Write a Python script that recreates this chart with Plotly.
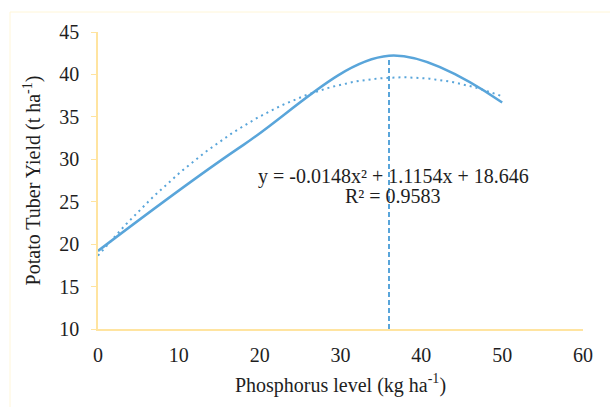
import numpy as np
import plotly.graph_objects as go

# Observed data (phosphorus level vs. yield)
p_levels = [0, 18, 36, 50]
yield_obs = [19.2, 31.7, 42.2, 36.7]

# Polynomial trendline coefficients (as displayed): a*x^2 + b*x + c
trend_coef = [-0.0148, 1.1154, 18.646]
r_squared = 0.9583
optimum_x = 36

x_ticks = [0, 10, 20, 30, 40, 50, 60]
y_ticks = [10, 15, 20, 25, 30, 35, 40, 45]

LINE = "#59A5DA"
AXIS = "#FFE4A0"
TXT = "#1e1e1e"
FONT = "Liberation Serif"
FS = 20

xt = np.linspace(p_levels[0], p_levels[-1], 101)
yt = np.polyval(trend_coef, xt)

fig = go.Figure()
fig.add_trace(go.Scatter(x=p_levels, y=yield_obs, mode="lines",
                         line=dict(color=LINE, width=2.5, shape="spline", smoothing=1.0),
                         hoverinfo="skip", showlegend=False))
fig.add_trace(go.Scatter(x=xt, y=yt, mode="lines",
                         line=dict(color=LINE, width=2, dash="2px,4px"),
                         hoverinfo="skip", showlegend=False))
fig.add_trace(go.Scatter(x=[optimum_x, optimum_x], y=[y_ticks[0], max(yield_obs)], mode="lines",
                         line=dict(color=LINE, width=2, dash="5px,3px"),
                         hoverinfo="skip", showlegend=False))

fig.add_annotation(
    xref="paper", yref="paper",
    x=(393 - 98) / 485, y=(329 - 176) / 297,
    text=f"y = {trend_coef[0]}x² + {trend_coef[1]}x + {trend_coef[2]}",
    showarrow=False, xanchor="center", yanchor="middle",
    font=dict(family=FONT, size=FS, color=TXT))
fig.add_annotation(
    xref="paper", yref="paper",
    x=(393 - 98) / 485, y=(329 - 196) / 297,
    text=f"R² = {r_squared}",
    showarrow=False, xanchor="center", yanchor="middle",
    font=dict(family=FONT, size=FS, color=TXT))

fig.add_shape(type="rect", xref="paper", yref="paper",
              x0=(10 - 98) / 485, x1=(640 - 98) / 485,
              y0=(329 - 430) / 297, y1=(329 - 12) / 297,
              line=dict(color="#FFF6D8", width=1), fillcolor="rgba(0,0,0,0)", layer="below")

fig.update_layout(
    width=610, height=407,
    margin=dict(l=98, r=27, t=32, b=78),
    paper_bgcolor="white", plot_bgcolor="white",
    font=dict(family=FONT, size=FS, color=TXT),
    xaxis=dict(range=[0, 60], tickvals=x_ticks, showgrid=False, zeroline=False,
               showline=True, linecolor=AXIS, linewidth=1.5, ticks="",
               ticklabelstandoff=7,
               title=dict(text="Phosphorus level (kg ha<sup>-1</sup>)", standoff=13,
                          font=dict(family=FONT, size=FS, color=TXT)),
               tickfont=dict(family=FONT, size=FS, color=TXT)),
    yaxis=dict(range=[10, 45], tickvals=y_ticks, showgrid=False, zeroline=False,
               showline=True, linecolor=AXIS, linewidth=1.5, ticks="outside",
               ticklen=5, tickcolor=AXIS, ticklabelstandoff=8,
               title=dict(text="Potato Tuber Yield (t ha<sup>-1</sup>)", standoff=13,
                          font=dict(family=FONT, size=FS, color=TXT)),
               tickfont=dict(family=FONT, size=FS, color=TXT)),
)

fig.write_html("out.html")
